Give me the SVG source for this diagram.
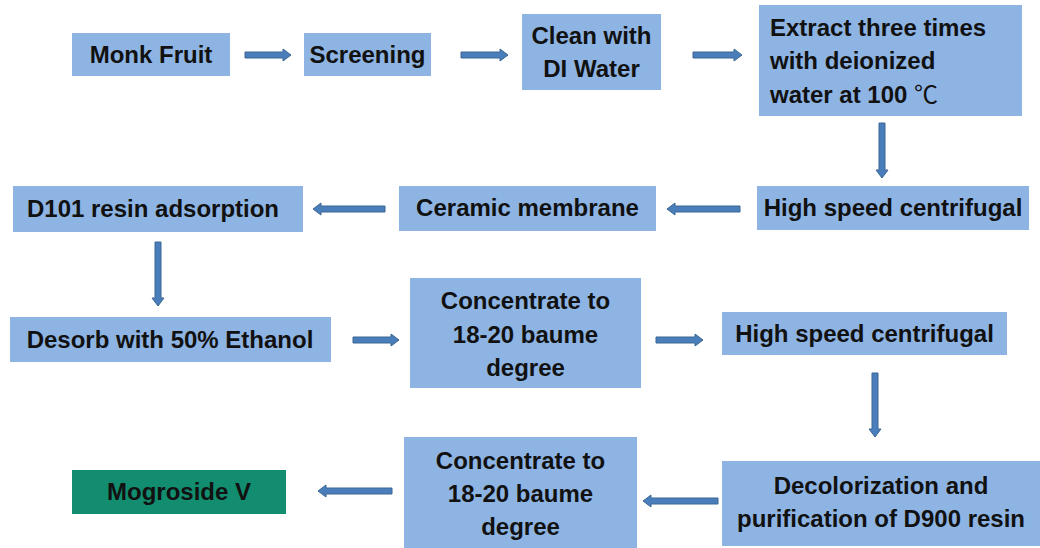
<svg xmlns="http://www.w3.org/2000/svg" width="1040" height="548" viewBox="0 0 1040 548">
<style>
.box{fill:#8eb4e3}
.final{fill:#138d6f}
.t{font-family:"Liberation Sans",Arial,sans-serif;font-weight:bold;font-size:24px;fill:#111}
.c{text-anchor:middle}
.arr{fill:#4a7ebb;stroke:#3b6694;stroke-width:1}
</style>
<rect width="1040" height="548" fill="#fff"/>
<g id="n1"><rect class="box" x="72" y="33" width="158" height="43"/><text class="t c" x="151" y="63">Monk Fruit</text></g>
<g id="n2"><rect class="box" x="304" y="33" width="127" height="43"/><text class="t c" x="367.5" y="63">Screening</text></g>
<g id="n3"><rect class="box" x="522" y="14" width="139" height="76"/><text class="t c" x="591.5" y="44">Clean with</text><text class="t c" x="591.5" y="77">DI Water</text></g>
<g id="n4"><rect class="box" x="759" y="5" width="263" height="111"/><text class="t" x="770" y="36">Extract three times</text><text class="t" x="770" y="69">with deionized</text><text class="t" x="770" y="103">water at 100 <tspan style="font-family:'Noto Sans CJK SC','DejaVu Sans',sans-serif;font-weight:normal">℃</tspan></text></g>
<g id="n5"><rect class="box" x="757" y="186" width="272" height="44"/><text class="t c" x="893" y="216">High speed centrifugal</text></g>
<g id="n6"><rect class="box" x="399" y="186" width="257" height="45"/><text class="t c" x="527.5" y="216">Ceramic membrane</text></g>
<g id="n7"><rect class="box" x="13" y="186" width="290" height="46"/><text class="t c" x="153" y="217">D101 resin adsorption</text></g>
<g id="n8"><rect class="box" x="10" y="317" width="321" height="45"/><text class="t c" x="170" y="348">Desorb with 50% Ethanol</text></g>
<g id="n9"><rect class="box" x="410" y="278" width="231" height="110"/><text class="t c" x="525.5" y="309">Concentrate to</text><text class="t c" x="525.5" y="343">18-20 baume</text><text class="t c" x="525.5" y="376">degree</text></g>
<g id="n10"><rect class="box" x="722" y="312" width="285" height="43"/><text class="t c" x="864.5" y="342">High speed centrifugal</text></g>
<g id="n11"><rect class="box" x="722" y="461" width="318" height="85"/><text class="t c" x="881" y="494">Decolorization and</text><text class="t c" x="881" y="527">purification of D900 resin</text></g>
<g id="n12"><rect class="box" x="404" y="437" width="233" height="111"/><text class="t c" x="520.5" y="469">Concentrate to</text><text class="t c" x="520.5" y="502">18-20 baume</text><text class="t c" x="520.5" y="535">degree</text></g>
<g id="n13"><rect class="final" x="72" y="470" width="214" height="44"/><text class="t c" x="179" y="500">Mogroside V</text></g>
<g id="connectors">
<polygon class="arr" points="245,52 283,52 283,49 291,55 283,61 283,58 245,58"/>
<polygon class="arr" points="461,52 500,52 500,49 508,55 500,61 500,58 461,58"/>
<polygon class="arr" points="693,52 734,52 734,49 742,55 734,61 734,58 693,58"/>
<polygon class="arr" points="879,123 885,123 885,170 888,170 882,178 876,170 879,170"/>
<polygon class="arr" points="740,206 675,206 675,203 667,209 675,215 675,212 740,212"/>
<polygon class="arr" points="385,206 321,206 321,203 313,209 321,215 321,212 385,212"/>
<polygon class="arr" points="155,242 161,242 161,298 164,298 158,306 152,298 155,298"/>
<polygon class="arr" points="353,337 391,337 391,334 399,340 391,346 391,343 353,343"/>
<polygon class="arr" points="656,337 695,337 695,334 703,340 695,346 695,343 656,343"/>
<polygon class="arr" points="872,373 878,373 878,429 881,429 875,437 869,429 872,429"/>
<polygon class="arr" points="718,498 651,498 651,495 643,501 651,507 651,504 718,504"/>
<polygon class="arr" points="392,488 326,488 326,485 318,491 326,497 326,494 392,494"/>
</g>
</svg>
